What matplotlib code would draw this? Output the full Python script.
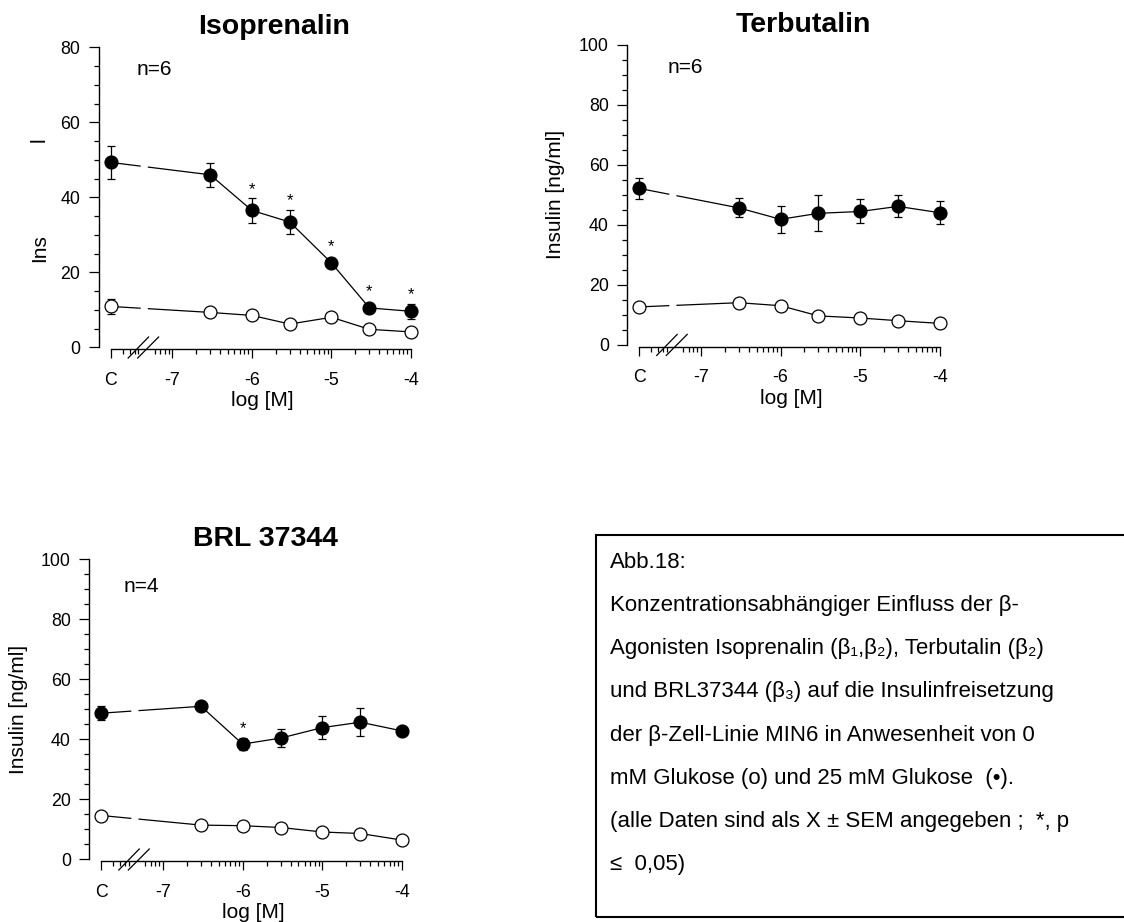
import numpy as np
import matplotlib
matplotlib.use('Agg')
import matplotlib.pyplot as plt
from matplotlib.ticker import MultipleLocator, FixedLocator
from matplotlib.patches import Rectangle
import matplotlib.transforms as mtrans

plt.rcParams['font.family'] = ['Liberation Sans', 'DejaVu Sans']

# ---------------- data ----------------
conc = [3e-7, 1e-6, 3e-6, 1e-5, 3e-5, 1e-4]          # M (first point = control C)
x_tick_labels = ['C', '-7', '-6', '-5', '-4']

iso_25 = [49.3, 46.0, 36.5, 33.4, 22.5, 10.5, 9.6]
iso_25_sem = [4.3, 3.2, 3.3, 3.3, 0.8, 1.0, 2.0]
iso_0 = [10.9, 9.3, 8.5, 6.2, 8.0, 4.8, 4.1]
iso_0_sem = [1.9, 0.8, 0.6, 0.5, 0.8, 0.5, 0.5]
iso_sig = [False, False, True, True, True, True, True]

ter_25 = [52.1, 45.6, 41.8, 43.8, 44.4, 46.1, 44.0]
ter_25_sem = [3.6, 3.2, 4.5, 6.0, 4.0, 3.7, 3.8]
ter_0 = [12.6, 14.0, 13.0, 9.6, 8.9, 8.0, 7.1]
ter_0_sem = [1.0, 1.2, 0.8, 1.0, 0.6, 0.5, 0.6]
ter_sig = [False] * 7

brl_25 = [48.7, 51.0, 38.4, 40.4, 43.9, 45.7, 42.8]
brl_25_sem = [2.4, 1.2, 1.9, 2.9, 3.9, 4.6, 1.2]
brl_0 = [14.6, 11.4, 11.2, 10.6, 9.1, 8.6, 6.4]
brl_0_sem = [1.0, 0.8, 0.8, 0.8, 0.8, 0.8, 0.8]
brl_sig = [False, False, True, False, False, False, False]

caption_lines = [
    "Abb.18:",
    "Konzentrationsabhängiger Einfluss der β-",
    "Agonisten Isoprenalin (β₁,β₂), Terbutalin (β₂)",
    "und BRL37344 (β₃) auf die Insulinfreisetzung",
    "der β-Zell-Linie MIN6 in Anwesenheit von 0",
    "mM Glukose (ο) und 25 mM Glukose  (•).",
    "(alle Daten sind als X ± SEM angegeben ;  *, p",
    "≤  0,05)",
]

# ---------------- layout ----------------
W, H = 1124, 922
fig = plt.figure(figsize=(W / 100, H / 100), dpi=100)

XC = -7.775          # axis position of the control
XLIM = (-7.925, -4.0)
GAP = (-7.405, -7.30)


def fx(px):
    return px / W


def fy(py):
    return 1 - py / H


def make_ax(left, right, top, bottom):
    return fig.add_axes([left / W, 1 - bottom / H, (right - left) / W, (bottom - top) / H])


def panel(ax, ymax, hi, hi_sem, lo, lo_sem, sig, title, ntext, npos):
    xs = np.r_[XC, np.log10(conc)]
    ax.set_xlim(*XLIM)
    ax.set_ylim(0, ymax)
    px_per_unit = 300.0 / ymax
    for mean, sem, face in [(lo, lo_sem, 'white'), (hi, hi_sem, 'black')]:
        mean = np.asarray(mean, float)
        sem = np.asarray(sem, float)
        yg = np.interp(GAP, xs[:2], mean[:2])
        ax.plot([xs[0], GAP[0]], [mean[0], yg[0]], color='black', lw=0.9, zorder=2)
        ax.plot(np.r_[GAP[1], xs[1:]], np.r_[yg[1], mean[1:]], color='black', lw=0.9, zorder=2)
        eb = ax.errorbar(xs, mean, yerr=sem, fmt='none', ecolor='black', elinewidth=0.9,
                         capsize=2.8, capthick=0.9, zorder=3)
        for art in eb.lines[1] + eb.lines[2]:
            art.set_clip_on(False)
        ax.plot(xs, mean, 'o', ms=9.3, mfc=face, mec='black', mew=0.9, zorder=4, clip_on=False)
    hi_a = np.asarray(hi, float)
    hs = np.asarray(hi_sem, float)
    for i, s in enumerate(sig):
        if s:
            sem_px = hs[i] * px_per_unit
            extra = max(0.0, 7.0 - sem_px) * 0.72
            ax.annotate('*', xy=(xs[i], hi_a[i] + hs[i]), xytext=(0, 1.0 + extra),
                        textcoords='offset points', ha='center', va='bottom', fontsize=12)

    # axes styling
    for sp in ['top', 'right']:
        ax.spines[sp].set_visible(False)
    ax.spines['left'].set_bounds(0, ymax)
    ax.spines['bottom'].set_bounds(XC, -4)
    ax.spines['bottom'].set_position(('outward', 1.5))
    for sp in ['left', 'bottom']:
        ax.spines[sp].set_linewidth(1.0)
    ax.yaxis.set_major_locator(MultipleLocator(20))
    ax.yaxis.set_minor_locator(MultipleLocator(5))
    ax.xaxis.set_major_locator(FixedLocator([XC, -7, -6, -5, -4]))
    ax.set_xticklabels(x_tick_labels)
    minor = [XC + 0.5 * np.log10(k) for k in range(2, 6)]
    minor += [-8 + np.log10(k) for k in range(6, 10)]
    minor += [d + np.log10(k) for d in (-7, -6, -5) for k in range(2, 10)]
    ax.xaxis.set_minor_locator(FixedLocator(minor))
    ax.tick_params(axis='y', which='major', length=7.2, width=0.9, labelsize=12.8, pad=6)
    ax.tick_params(axis='y', which='minor', length=3.6, width=0.9)
    ax.tick_params(axis='x', which='major', length=6.5, width=0.9, labelsize=12.8, pad=9.5)
    ax.tick_params(axis='x', which='minor', length=3.4, width=0.9)

    # axis break slashes
    tr = mtrans.blended_transform_factory(ax.transData, ax.transAxes)
    for a, b in [(0.22, 0.477), (0.34, 0.603)]:
        ax.plot([XC + a, XC + b], [-0.0357, 0.0343], transform=tr, color='black',
                lw=0.9, clip_on=False, zorder=5)

    ax.text(0.563, 1 + 13 / 300, title, transform=ax.transAxes, ha='center', va='baseline',
            fontsize=20.5, fontweight='bold')
    ax.text(npos[0], npos[1], ntext, transform=ax.transAxes, ha='left', va='baseline', fontsize=15)
    ax.text(0.525, -59 / 300, 'log [M]', transform=ax.transAxes, ha='center', va='baseline',
            fontsize=15)


ax1 = make_ax(98.7, 411, 47.3, 347.3)
panel(ax1, 80, iso_25, iso_25_sem, iso_0, iso_0_sem, iso_sig, 'Isoprenalin', 'n=6', (0.1226, 0.9077))
ax2 = make_ax(627.3, 939.7, 44.7, 344.7)
panel(ax2, 100, ter_25, ter_25_sem, ter_0, ter_0_sem, ter_sig, 'Terbutalin', 'n=6', (0.129, 0.905))
ax3 = make_ax(89.3, 402, 559.3, 859.3)
panel(ax3, 100, brl_25, brl_25_sem, brl_0, brl_0_sem, brl_sig, 'BRL 37344', 'n=4', (0.109, 0.892))

# y-axis labels
fig.text(fx(45), fy(248.5), 'Ins', rotation=90, rotation_mode='anchor', ha='center',
         va='baseline', fontsize=15)
fig.text(fx(45), fy(140), 'l', rotation=90, rotation_mode='anchor', ha='center',
         va='baseline', fontsize=15)
fig.text(fx(561), fy(194.7), 'Insulin [ng/ml]', rotation=90, rotation_mode='anchor',
         ha='center', va='baseline', fontsize=15)
fig.text(fx(24.5), fy(709.3), 'Insulin [ng/ml]', rotation=90, rotation_mode='anchor',
         ha='center', va='baseline', fontsize=15)

# caption box
fig.add_artist(Rectangle((fx(596), fy(917)), 0.5, (917 - 535) / H, transform=fig.transFigure,
                         fill=False, edgecolor='black', lw=1.5))
for i, line in enumerate(caption_lines):
    fig.text(fx(610), fy(567.8 + i * 43.2), line, ha='left', va='baseline', fontsize=16)

fig.savefig('out.png', dpi=100)
